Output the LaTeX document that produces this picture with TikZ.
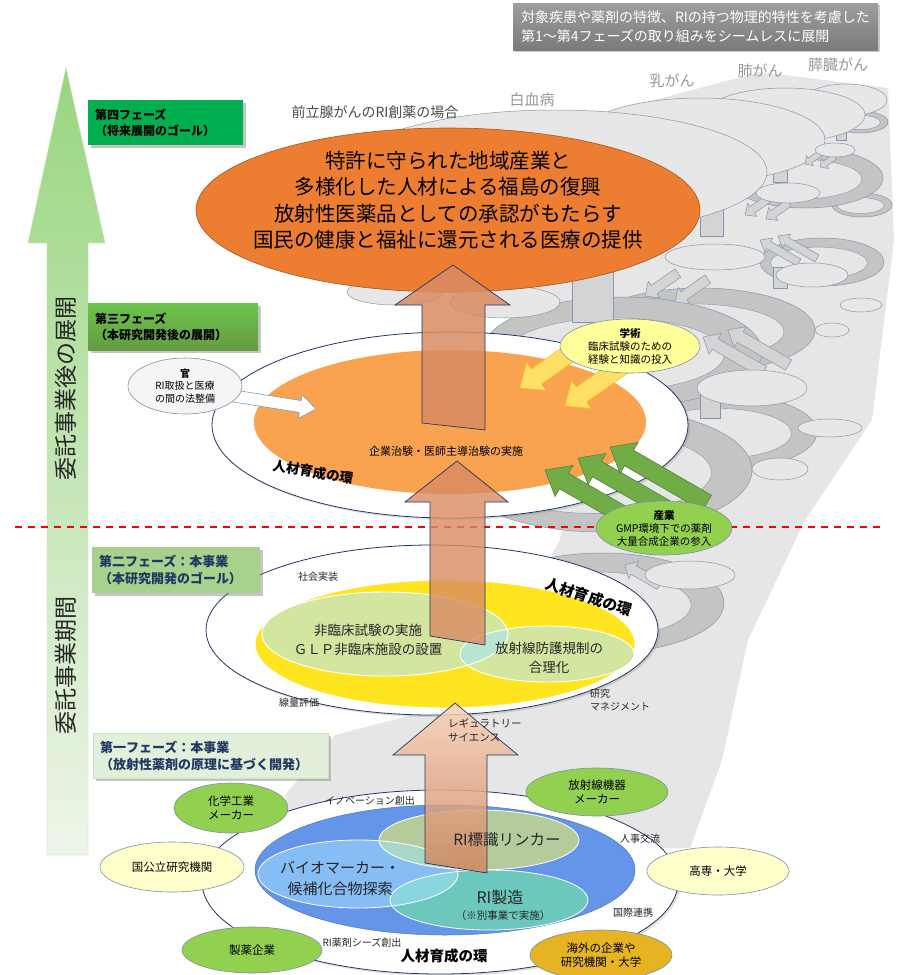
\documentclass[tikz,border=0pt]{standalone}
\usepackage{fontspec}
\setmainfont{Noto Sans CJK JP}
\usetikzlibrary{shadows,shapes.geometric}
\newcommand\fsz[2]{\fontsize{#1}{#2}\selectfont}
\definecolor{navy}{HTML}{203864}
\definecolor{bubline}{HTML}{7F8FA9}
\definecolor{greyline}{HTML}{8497B0}
\definecolor{ringgrey}{HTML}{C4C4C4}
\definecolor{ringinner}{HTML}{E6E6E6}
\definecolor{bubgrey}{HTML}{E7E7E7}
\definecolor{fan}{HTML}{E6E6E6}
\definecolor{grarr}{HTML}{D4D4D4}
\definecolor{orgA}{HTML}{ED7D31}
\definecolor{orgB}{HTML}{F9A350}
\definecolor{arrowO}{HTML}{D98B62}
\definecolor{yel}{HTML}{FFE51F}
\definecolor{lgreen}{HTML}{D3E6A0}
\definecolor{ovl}{HTML}{B8E5D2}
\definecolor{gbub}{HTML}{92D050}
\definecolor{ybub}{HTML}{FFFFCC}
\definecolor{yelbub}{HTML}{FFFF99}
\definecolor{goldbub}{HTML}{E6B422}
\definecolor{blueE}{HTML}{6495E8}
\definecolor{lblue}{HTML}{86BDF5}
\definecolor{sage}{HTML}{B5CB9C}
\definecolor{tealE}{HTML}{6CC8BC}
\definecolor{ovA}{HTML}{A8D8C8}
\definecolor{ovB}{HTML}{8AD6E0}
\definecolor{ovC}{HTML}{98E39A}
\definecolor{p4green}{HTML}{00B050}
\definecolor{p2green}{HTML}{A9D18E}
\definecolor{p1green}{HTML}{E2EFDA}
\definecolor{arrowG}{HTML}{70AD47}
\definecolor{arrowY}{HTML}{FFE066}
\newcommand\blockarr[7]{%
  \begin{scope}[shift={#2},rotate=#3]
    \filldraw[#1] (0,0) -- (-#7,#6) -- (-#7,#5) -- (-#4,#5) -- (-#4,-#5) -- (-#7,-#5) -- (-#7,-#6) -- cycle;
  \end{scope}}
\newcommand\grring[4]{%
  \filldraw[fill=ringgrey,draw=greyline,line width=0.5pt] (#1,#2) ellipse [x radius=#3,y radius=#4];
  \filldraw[fill=ringinner,draw=greyline,line width=0.4pt] ({#1-0.05*#3},{#2+0.04*#4}) ellipse [x radius={0.78*#3},y radius={0.66*#4}];}
\newcommand\grbub[4]{%
  \filldraw[fill=bubgrey,draw=greyline,line width=0.5pt] (#1,#2) ellipse [x radius=#3,y radius=#4];}
\begin{document}
\begin{tikzpicture}[x=1pt,y=-1pt,
  every node/.style={inner sep=0pt,outer sep=0pt},
  lbl/.style={font=\fsz{10}{12.5},text=black!85,align=center},
  bub/.style={ellipse,draw=bubline,line width=0.6pt,align=center,font=\fsz{11.5}{14.5}},
  phbox/.style={anchor=north west,align=left,inner xsep=7pt,font=\bfseries\fsz{12.5}{16},
     drop shadow={opacity=0.45,shadow xshift=2.5pt,shadow yshift=-2.5pt}},
  bigarrow/.style={draw=navy,line width=0.7pt},
  grarrow/.style={fill=grarr,draw=greyline,line width=0.5pt},
  ringline/.style={draw=navy,line width=0.8pt},
  cancer/.style={font=\fsz{15}{18},text=black!40}
]
\useasboundingbox (0,0) rectangle (903,975);
\fill[white] (0,0) rectangle (903,975);

% ---------- grey background fan ----------
\fill[fan] (300,852) -- (285,795) -- (335,735) -- (470,700) -- (560,540) -- (600,330)
  -- (470,270) -- (560,125) -- (760,72) -- (888,88) -- (894,240) -- (872,420) -- (805,520)
  -- (748,640) -- (722,760) -- (690,848) -- cycle;

% ---------- grey copies (other cancers) ----------
\grring{860}{122}{28}{11}
\grring{862}{205}{30}{12}
\grring{805}{178}{78}{30}
\grring{822}{262}{62}{24}
\grring{700}{330}{115}{42}
\grring{722}{432}{95}{38}
\grring{602}{603}{122}{50}
\grring{622}{352}{140}{55}
\grring{602}{470}{150}{62}
% grey up shafts
\filldraw[grarrow] (572,237) rectangle (613,322);
\filldraw[grarrow] (700,200) rectangle (723,236);
\filldraw[grarrow] (773,163) rectangle (787,182);
\filldraw[grarrow] (836,120) rectangle (846,140);
\filldraw[grarrow] (700,383) rectangle (720,418);
\filldraw[grarrow] (773,267) rectangle (787,288);
% top grey ellipses (phase-4 copies)
\grbub{846}{100}{41}{16}
\grbub{785}{115}{80}{27}
\grbub{700}{140}{125}{42}
\grbub{555}{172}{212}{62}
% grey small arrows
\blockarr{grarrow}{(645,296)}{215}{40}{5}{10}{11}
\blockarr{grarrow}{(675,302)}{215}{40}{5}{10}{11}
\blockarr{grarrow}{(745,215)}{215}{28}{4}{8}{9}
\blockarr{grarrow}{(766,219)}{215}{28}{4}{8}{9}
\blockarr{grarrow}{(805,164)}{215}{18}{3}{6}{6}
\blockarr{grarrow}{(820,167)}{215}{18}{3}{6}{6}
\blockarr{grarrow}{(703,337)}{150}{70}{6}{12}{14}
\blockarr{grarrow}{(728,330)}{150}{70}{6}{12}{14}
\blockarr{grarrow}{(760,240)}{150}{45}{4}{8}{10}
\blockarr{grarrow}{(778,236)}{150}{45}{4}{8}{10}
\blockarr{grarrow}{(625,565)}{150}{40}{5}{10}{10}
% grey bubble copies
\grbub{395}{292}{48}{13}
\grbub{505}{302}{55}{16}
\grbub{715}{257}{50}{13}
\grbub{812}{275}{36}{12}
\grbub{788}{193}{32}{10}
\grbub{835}{150}{20}{7}
\grbub{752}{388}{55}{18}
\grbub{830}{428}{32}{9}
\grbub{861}{305}{21}{7}
\grbub{780}{469}{28}{11}
\grbub{832}{330}{17}{7}
\grbub{690}{575}{45}{14}

% ---------- left big arrow ----------
\shade[top color=p2green!90!green,bottom color=p1green!60!white,draw=p2green!70,line width=0.4pt]
  (47,855) -- (47,243) -- (28,243) -- (66,68) -- (105,243) -- (88,243) -- (88,855) -- cycle;
\node[rotate=90,font=\fsz{23}{26},text=black!85] (lt1) at (66,388) {委託事業後の展開};
\node[rotate=90,font=\fsz{23}{26},text=black!85] (lt2) at (66,665) {委託事業期間};

% ---------- phase 4 ----------
\node[ellipse,fill=orgA,draw=orgA!70!black,line width=0.6pt,minimum width=504pt,minimum height=164pt] (p4) at (448,210) {};
\node[font=\fsz{20.5}{26.5},align=center,text=black] (p4t) at (448,200)
  {特許に守られた地域産業と\\多様化した人材による福島の復興\\放射性医薬品としての承認がもたらす\\国民の健康と福祉に還元される医療の提供};

% ---------- phase 3 ----------
\node[ellipse,fill=white,ringline,minimum width=476pt,minimum height=186pt,
  drop shadow={opacity=0.25,shadow xshift=2pt,shadow yshift=-2pt}] (p3ring) at (450,425) {};
\node[ellipse,fill=orgB,minimum width=392pt,minimum height=144pt] (p3in) at (450,422) {};

% arrow 3 -> 4
\filldraw[bigarrow,fill=arrowO,fill opacity=0.85] (422,423) -- (422,305) -- (395,305) -- (453,265)
  -- (510,305) -- (485,305) -- (485,430) -- cycle;
\node[font=\fsz{11}{13}] (p3t) at (446,451) {企業治験・医師主導治験の実施};
\node[font=\bfseries\fsz{13.5}{16},rotate=-9] (p3hr) at (313,472) {人材育成の環};

% kan bubble + arrow
\blockarr{fill=white,draw=greyline,line width=0.6pt}{(316,409)}{-9}{85}{6}{12}{16}
\node[bub,fill=white!92!gray,font=\fsz{10}{12.5},minimum width=114pt,minimum height=56pt] (kan) at (185,386)
  {\textbf{官}\\RI取扱と医療\\の間の法整備};
% gakujutsu arrows + bubble
\blockarr{fill=arrowY,draw=yel!60!orange,line width=0.5pt}{(520,388)}{215}{78}{9}{17}{20}
\blockarr{fill=arrowY,draw=yel!60!orange,line width=0.5pt}{(565,406)}{215}{78}{9}{17}{20}
\node[bub,fill=yelbub,font=\fsz{10.5}{13},minimum width=140pt,minimum height=54pt] (gaku) at (630,346)
  {\textbf{学術}\\臨床試験のための\\経験と知識の投入};

% ---------- red dashed border ----------
\coordinate (dl) at (15,527);
\coordinate (dr) at (882,527);
\draw[red,line width=1.4pt,dash pattern=on 7pt off 6pt] (dl) -- (dr);

% sangyo arrows + bubble
\blockarr{fill=arrowG,draw=arrowG!70!black,line width=0.5pt}{(545,470)}{150}{112}{9}{18}{22}
\blockarr{fill=arrowG,draw=arrowG!70!black,line width=0.5pt}{(578,458)}{150}{112}{9}{18}{22}
\blockarr{fill=arrowG,draw=arrowG!70!black,line width=0.5pt}{(610,447)}{150}{112}{9}{18}{22}
\node[bub,fill=gbub,font=\fsz{10.5}{13},minimum width=132pt,minimum height=54pt] (sangyo) at (664,528)
  {\textbf{産業}\\GMP環境下での薬剤\\大量合成企業の参入};

% ---------- phase 2 ----------
\node[ellipse,fill=white,ringline,minimum width=452pt,minimum height=170pt,
  drop shadow={opacity=0.25,shadow xshift=2pt,shadow yshift=-2pt}] (p2ring) at (432,630) {};
\node[ellipse,fill=yel,draw=white,line width=1pt,minimum width=380pt,minimum height=128pt] (p2y) at (445,644) {};
\node[ellipse,fill=lgreen,minimum width=246pt,minimum height=84pt] (p2a) at (385,634) {};
\node[ellipse,fill=lgreen,minimum width=174pt,minimum height=56pt] (p2b) at (547,654) {};
\begin{scope}
  \clip (385,634) ellipse [x radius=123,y radius=42];
  \fill[ovl] (547,654) ellipse [x radius=87,y radius=28];
\end{scope}
\draw[white,line width=0.9pt] (385,634) ellipse [x radius=123,y radius=42];
\draw[white,line width=0.9pt] (547,654) ellipse [x radius=87,y radius=28];
\node[font=\fsz{13.5}{18.5},align=center,text=black!85] (p2at) at (368,640) {非臨床試験の実施\\ＧＬＰ非臨床施設の設置};
\node[font=\fsz{13.5}{18.5},align=center,text=black!85] (p2bt) at (549,658) {放射線防護規制の\\合理化};
\node[lbl] (l21) at (318,577) {社会実装};
\node[lbl] (l22) at (299,703) {線量評価};
\node[lbl,align=left,anchor=west] (l23) at (590,700) {研究\\マネジメント};
\node[font=\bfseries\fsz{15}{18},rotate=-18] (p2hr) at (589,597) {人材育成の環};

% arrow 2 -> 3
\filldraw[bigarrow,fill=arrowO,fill opacity=0.8] (430,636) -- (430,502) -- (405,502) -- (457,461)
  -- (508,502) -- (485,502) -- (485,645) -- cycle;

% ---------- phase 1 ----------
\node[ellipse,fill=white,ringline,minimum width=476pt,minimum height=184pt,
  drop shadow={opacity=0.25,shadow xshift=2pt,shadow yshift=-2pt}] (p1ring) at (440,882) {};
\node[ellipse,fill=blueE,draw=blueE!80!black,line width=0.5pt,minimum width=380pt,minimum height=130pt] (p1b) at (445,870) {};
\node[ellipse,fill=sage,minimum width=200pt,minimum height=60pt] (p1s) at (479,840) {};
\node[ellipse,fill=lblue,minimum width=200pt,minimum height=68pt] (p1l) at (358,874) {};
\node[ellipse,fill=tealE,minimum width=198pt,minimum height=60pt] (p1t) at (489,900) {};
\begin{scope}
  \clip (479,840) ellipse [x radius=100,y radius=30];
  \fill[ovA] (358,874) ellipse [x radius=100,y radius=34];
  \fill[ovC] (489,900) ellipse [x radius=99,y radius=30];
\end{scope}
\begin{scope}
  \clip (358,874) ellipse [x radius=100,y radius=34];
  \fill[ovB] (489,900) ellipse [x radius=99,y radius=30];
\end{scope}
\draw[white,line width=0.8pt] (479,840) ellipse [x radius=100,y radius=30];
\draw[white,line width=0.8pt] (358,874) ellipse [x radius=100,y radius=34];
\draw[white,line width=0.8pt] (489,900) ellipse [x radius=99,y radius=30];

% arrow 1 -> 2
\shade[bigarrow,top color=orgA!35!white,bottom color=arrowO!95!black,fill opacity=0.85]
  (425,863) -- (425,755) -- (393,755) -- (455,703) -- (518,755) -- (487,755) -- (487,873) -- cycle;
\node[font=\fsz{10.5}{14},align=left,anchor=west,text=black!85] (reg) at (448,730) {レギュラトリー\\サイエンス};

\node[font=\fsz{15.5}{18},text=black!85] (p1st) at (507,840) {RI標識リンカー};
\node[font=\fsz{15}{21},align=center,text=black!85] (p1lt) at (340,878) {バイオマーカー・\\候補化合物探索};
\node[font=\fsz{16}{19},text=black!85] (p1tt) at (500,897) {RI製造};
\node[font=\fsz{10.5}{13},text=black!85] (p1tt2) at (503,915) {（※別事業で実施）};
\node[lbl] (l11) at (370,801) {イノベーション創出};
\node[lbl] (l12) at (640,839) {人事交流};
\node[lbl] (l13) at (633,913) {国際連携};
\node[lbl] (l14) at (362,943) {RI薬剤シーズ創出};
\node[font=\bfseries\fsz{14.5}{17}] (p1hr) at (444,956) {人材育成の環};

% satellite bubbles
\node[bub,fill=gbub,minimum width=114pt,minimum height=50pt] (b1) at (231,808) {化学工業\\メーカー};
\node[bub,fill=gbub,minimum width=142pt,minimum height=48pt] (b2) at (597,792) {放射線機器\\メーカー};
\node[bub,fill=ybub,minimum width=142pt,minimum height=48pt] (b3) at (718,871) {高専・大学};
\node[bub,fill=ybub,minimum width=144pt,minimum height=50pt] (b4) at (172,867) {国公立研究機関};
\node[bub,fill=gbub,minimum width=140pt,minimum height=46pt] (b5) at (252,950) {製薬企業};
\node[bub,fill=goldbub,minimum width=142pt,minimum height=50pt] (b6) at (601,955) {海外の企業や\\研究機関・大学};

% ---------- phase boxes ----------
\node[phbox,fill=p4green,minimum width=155pt,minimum height=45pt,text width=141pt,font=\bfseries\fsz{12}{16}] (ph4) at (88,100)
  {第四フェーズ\\（将来展開のゴール）};
\node[phbox,top color=arrowG!80!green!90!white,bottom color=arrowG!90!black,minimum width=170pt,minimum height=47pt,text width=156pt,font=\bfseries\fsz{12}{16}] (ph3) at (88,303)
  {第三フェーズ\\（本研究開発後の展開）};
\node[phbox,fill=p2green,text=navy,minimum width=168pt,minimum height=46pt,text width=154pt,font=\bfseries\fsz{13}{17}] (ph2) at (92,547)
  {第二フェーズ：本事業\\（本研究開発のゴール）};
\node[phbox,fill=p1green,draw=p2green!60,line width=0.4pt,text=navy,minimum width=235pt,minimum height=45pt,text width=221pt,font=\bfseries\fsz{13}{17}] (ph1) at (93,733)
  {第一フェーズ：本事業\\（放射性薬剤の原理に基づく開発）};

% ---------- top texts ----------
\node[anchor=north west,top color=black!38,bottom color=black!52,text=white,align=left,inner xsep=8pt,
  minimum width=365pt,minimum height=47pt,text width=349pt,font=\fsz{14}{18.5},
  drop shadow={opacity=0.4,shadow xshift=2pt,shadow yshift=-2pt}] (topbox) at (513,3)
  {対象疾患や薬剤の特徴、RIの持つ物理的特性を考慮した\\第1～第4フェーズの取り組みをシームレスに展開};
\node[cancer] (c1) at (532,100) {白血病};
\node[cancer] (c2) at (672,81) {乳がん};
\node[cancer] (c3) at (760,71) {肺がん};
\node[cancer] (c4) at (838,65) {膵臓がん};
\node[font=\fsz{14}{17},text=black!70] (pros) at (375,112) {前立腺がんのRI創薬の場合};
\end{tikzpicture}
\end{document}
